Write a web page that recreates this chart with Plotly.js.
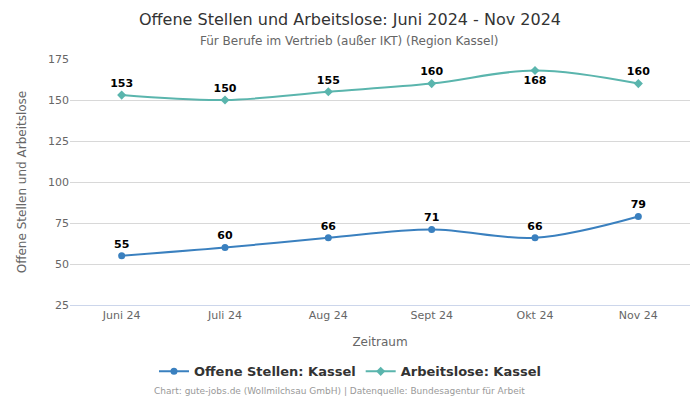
<!DOCTYPE html>
<html><head><meta charset="utf-8">
<script src="https://cdn.plot.ly/plotly-3.0.1.min.js"></script>
<style>body{margin:0;background:#fff}#c{width:700px;height:400px}</style>
</head><body><div id="c"></div>
<script>
const months = ["Juni 24","Juli 24","Aug 24","Sept 24","Okt 24","Nov 24"];
const offeneStellen = [55,60,66,71,66,79];
const arbeitslose = [153,150,155,160,168,160];
const arbeitsloseLabelPos = ["top center","top center","top center","top center","bottom center","top center"];

const traces = [
 {x:months,y:offeneStellen,name:"Offene Stellen: Kassel",type:"scatter",mode:"lines+markers+text",
  line:{shape:"spline",color:"#3a80bf",width:2},marker:{symbol:"circle",size:7,color:"#3a80bf"},
  text:offeneStellen.map(String),textposition:"top center",
  textfont:{family:"DejaVu Sans",size:11,color:"#000",weight:"bold"},cliponaxis:false},
 {x:months,y:arbeitslose,name:"Arbeitslose: Kassel",type:"scatter",mode:"lines+markers+text",
  line:{shape:"spline",color:"#5ab5ad",width:2},marker:{symbol:"diamond",size:7,color:"#5ab5ad"},
  text:arbeitslose.map(String),textposition:arbeitsloseLabelPos,
  textfont:{family:"DejaVu Sans",size:11,color:"#000",weight:"bold"},cliponaxis:false}
];
const layout = {
 width:700,height:400,margin:{l:70,r:10,t:59,b:95},
 paper_bgcolor:"#fff",plot_bgcolor:"#fff",
 font:{family:"DejaVu Sans",color:"#666",size:11},
 xaxis:{type:"category",range:[-0.5,5.5],showgrid:false,showline:true,linecolor:"#ccd6eb",ticks:"",automargin:false,
   title:{text:"Zeitraum",font:{size:12,color:"#666"},standoff:16},tickfont:{size:11,color:"#666"}},
 yaxis:{range:[25,175],tickvals:[25,50,75,100,125,150,175],gridcolor:"#d8d8d8",zeroline:false,automargin:false,
   title:{text:"Offene Stellen und Arbeitslose",font:{size:12,color:"#666"},standoff:18},tickfont:{size:11,color:"#666"}},
 showlegend:true,
 legend:{orientation:"h",x:0.4516,xanchor:"center",y:-0.27,yanchor:"middle",font:{size:13,color:"#333",weight:"bold"}},
 annotations:[
  {text:"Offene Stellen und Arbeitslose: Juni 2024 - Nov 2024",xref:"paper",yref:"paper",x:0.4516,y:1.161,
   xanchor:"center",yanchor:"middle",showarrow:false,font:{size:16,color:"#333"}},
  {text:"Für Berufe im Vertrieb (außer IKT) (Region Kassel)",xref:"paper",yref:"paper",x:0.4516,y:1.073,
   xanchor:"center",yanchor:"middle",showarrow:false,font:{size:12,color:"#666"}},
  {text:"Chart: gute-jobs.de (Wollmilchsau GmbH) | Datenquelle: Bundesagentur für Arbeit",
   xref:"paper",yref:"paper",x:0.435,y:-0.351,xanchor:"center",yanchor:"middle",showarrow:false,
   font:{size:9,color:"#999"}}]
};
Plotly.newPlot("c",traces,layout,{displayModeBar:false,staticPlot:true});
</script></body></html>
